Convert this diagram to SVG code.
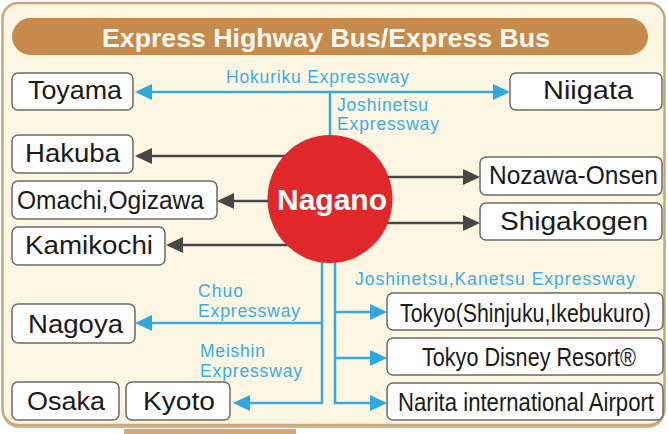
<svg xmlns="http://www.w3.org/2000/svg" width="668" height="434" viewBox="0 0 668 434">
<style>
.box{fill:#ffffff;stroke:#6a6a6a;stroke-width:1.5}
.lbl{font-family:"Liberation Sans",Arial,sans-serif;font-size:25px;fill:#1a1a1a}
.blu{font-family:"Liberation Sans",Arial,sans-serif;font-size:17.5px;fill:#3aade4}
.bl{stroke:#3aa9e0;stroke-width:2.5;fill:none}
.dk{stroke:#474747;stroke-width:2.5;fill:none}
</style>
<defs>
<marker id="ab" markerUnits="userSpaceOnUse" markerWidth="18" markerHeight="18" refX="11" refY="8" orient="auto"><path d="M0,0 L17,8 L0,16 z" fill="#2ea8e2"/></marker>
<marker id="ad" markerUnits="userSpaceOnUse" markerWidth="18" markerHeight="18" refX="11" refY="8" orient="auto"><path d="M0,0 L17,8 L0,16 z" fill="#474747"/></marker>
</defs>
<rect x="0" y="0" width="668" height="434" fill="#ffffff"/>
<rect x="124" y="429" width="172" height="5" fill="#d4a878"/>
<rect x="2.5" y="5" width="662" height="423" rx="16" fill="#d9b88c"/>
<rect x="2.5" y="3" width="662" height="422" rx="16" fill="#fcf6e2" stroke="#caa47a" stroke-width="2.5"/>
<g id="title">
<rect x="12" y="18" width="636" height="37" rx="18.5" fill="#c68a4d"/>
<text x="326" y="47" text-anchor="middle" font-family="'Liberation Sans',Arial,sans-serif" font-size="26" font-weight="bold" fill="#fff9f0" textLength="448" lengthAdjust="spacingAndGlyphs">Express Highway Bus/Express Bus</text>
</g>
<g id="connectors">
<line class="bl" x1="330" y1="92" x2="141" y2="92" marker-end="url(#ab)"/>
<line class="bl" x1="330" y1="92" x2="504" y2="92" marker-end="url(#ab)"/>
<line class="bl" x1="330" y1="92" x2="330" y2="140"/>
<line class="dk" x1="300" y1="156" x2="141" y2="156" marker-end="url(#ad)"/>
<line class="dk" x1="300" y1="201" x2="223" y2="201" marker-end="url(#ad)"/>
<line class="dk" x1="300" y1="245" x2="172" y2="245" marker-end="url(#ad)"/>
<line class="dk" x1="360" y1="177" x2="474" y2="177" marker-end="url(#ad)"/>
<line class="dk" x1="360" y1="223" x2="474" y2="223" marker-end="url(#ad)"/>
<path class="bl" d="M322,255 V403 H239" marker-end="url(#ab)"/>
<line class="bl" x1="322" y1="323" x2="141" y2="323" marker-end="url(#ab)"/>
<path class="bl" d="M335,255 V403 H381" marker-end="url(#ab)"/>
<line class="bl" x1="335" y1="312" x2="381" y2="312" marker-end="url(#ab)"/>
<line class="bl" x1="335" y1="358" x2="381" y2="358" marker-end="url(#ab)"/>
<text class="blu" x="226" y="83" textLength="183" lengthAdjust="spacing">Hokuriku Expressway</text>
<text class="blu" x="337" y="111" textLength="91" lengthAdjust="spacing">Joshinetsu</text>
<text class="blu" x="337" y="130" textLength="102" lengthAdjust="spacing">Expressway</text>
<text class="blu" x="355" y="285" textLength="280" lengthAdjust="spacing">Joshinetsu,Kanetsu Expressway</text>
<text class="blu" x="198" y="297" textLength="45" lengthAdjust="spacing">Chuo</text>
<text class="blu" x="198" y="317" textLength="102" lengthAdjust="spacing">Expressway</text>
<text class="blu" x="200" y="357" textLength="65" lengthAdjust="spacing">Meishin</text>
<text class="blu" x="200" y="377" textLength="102" lengthAdjust="spacing">Expressway</text>
</g>
<g id="nagano">
<ellipse cx="330" cy="199" rx="62.5" ry="64" fill="#e0282b"/>
<text x="332" y="210" text-anchor="middle" font-family="'Liberation Sans',Arial,sans-serif" font-size="30" font-weight="bold" fill="#ffffff" textLength="110" lengthAdjust="spacingAndGlyphs">Nagano</text>
</g>
<g id="toyama"><rect class="box" x="12" y="73" width="121" height="37" rx="6"/><text class="lbl" x="28" y="99" textLength="94" lengthAdjust="spacingAndGlyphs">Toyama</text></g>
<g id="niigata"><rect class="box" x="510" y="73" width="152" height="37" rx="6"/><text class="lbl" x="543" y="99" textLength="90" lengthAdjust="spacingAndGlyphs">Niigata</text></g>
<g id="hakuba"><rect class="box" x="12" y="135" width="121" height="38" rx="6"/><text class="lbl" x="25" y="162" textLength="95" lengthAdjust="spacingAndGlyphs">Hakuba</text></g>
<g id="omachi"><rect class="box" x="12" y="181" width="205" height="38" rx="6"/><text class="lbl" x="17" y="209" textLength="187" lengthAdjust="spacingAndGlyphs">Omachi,Ogizawa</text></g>
<g id="kamikochi"><rect class="box" x="12" y="227" width="153" height="38" rx="6"/><text class="lbl" x="25" y="254" textLength="128" lengthAdjust="spacingAndGlyphs">Kamikochi</text></g>
<g id="nozawa"><rect class="box" x="480" y="157" width="182" height="38" rx="6"/><text class="lbl" x="489" y="184" textLength="169" lengthAdjust="spacingAndGlyphs">Nozawa-Onsen</text></g>
<g id="shigakogen"><rect class="box" x="480" y="203" width="182" height="37" rx="6"/><text class="lbl" x="500" y="230" textLength="148" lengthAdjust="spacingAndGlyphs">Shigakogen</text></g>
<g id="nagoya"><rect class="box" x="12" y="304" width="123" height="39" rx="6"/><text class="lbl" x="28" y="333" textLength="95" lengthAdjust="spacingAndGlyphs">Nagoya</text></g>
<g id="osaka"><rect class="box" x="12" y="382" width="107" height="38" rx="6"/><text class="lbl" x="27" y="410" textLength="78" lengthAdjust="spacingAndGlyphs">Osaka</text></g>
<g id="kyoto"><rect class="box" x="126" y="382" width="104" height="38" rx="6"/><text class="lbl" x="143" y="410" textLength="72" lengthAdjust="spacingAndGlyphs">Kyoto</text></g>
<g id="tokyo"><rect class="box" x="387" y="293" width="276" height="37" rx="6"/><text class="lbl" transform="translate(400,322) scale(0.852,1)" x="0" y="0">Tokyo(Shinjuku,Ikebukuro)</text></g>
<g id="disney"><rect class="box" x="387" y="338" width="276" height="37" rx="6"/><text class="lbl" transform="translate(422,366) scale(0.864,1)" x="0" y="0">Tokyo Disney Resort®</text></g>
<g id="narita"><rect class="box" x="387" y="383" width="276" height="37" rx="6"/><text class="lbl" transform="translate(398,411) scale(0.886,1)" x="0" y="0">Narita international Airport</text></g>
</svg>
